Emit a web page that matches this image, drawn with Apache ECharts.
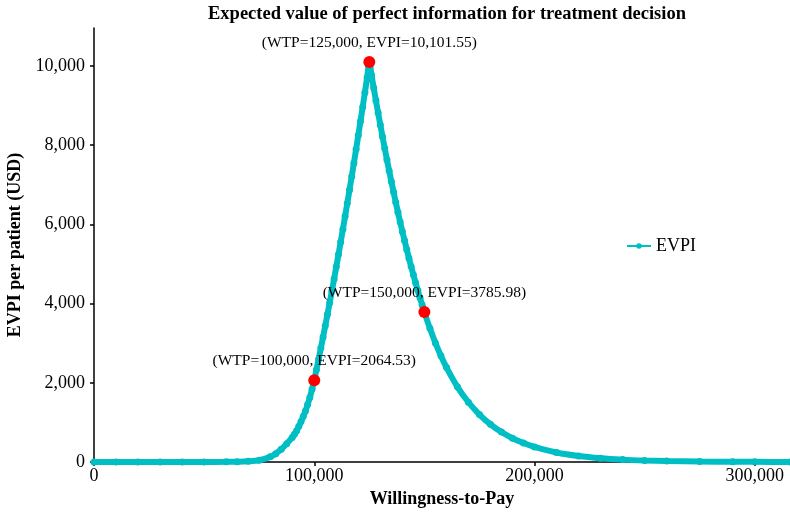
<!DOCTYPE html>
<html>
<head>
<meta charset="utf-8">
<title>EVPI</title>
<script src="https://cdn.jsdelivr.net/npm/echarts@6/dist/echarts.min.js"></script>
<style>
  html, body { margin: 0; padding: 0; background: #fff; }
  #main { width: 790px; height: 521px; }
</style>
</head>
<body>
<div id="main"></div>
<script>
// willingness-to-pay grid and EVPI
var wtp = [0, 10000, 20000, 30000, 40000, 50000, 60000, 65000, 70000, 75000, 80000, 82500, 85000, 87500,
  90000, 91000, 92000, 93000, 94000, 95000, 96000, 97000, 98000, 99000,
  100000, 101000, 102000, 103000, 104000, 105000, 106000, 107000, 108000, 109000,
  110000, 111000, 112000, 113000, 114000, 115000, 116000, 117000, 118000, 119000,
  120000, 121000, 122000, 123000, 124000, 125000, 126000, 127000, 128000, 129000,
  130000, 131000, 132000, 133000, 134000, 135000, 136000, 137000, 138000, 139000,
  140000, 141000, 142000, 143000, 144000, 145000, 146000, 147000, 148000, 149000,
  150000, 152500, 155000, 157500, 160000, 165000, 170000, 175000, 180000, 185000,
  190000, 195000, 200000, 210000, 220000, 230000, 240000, 250000, 260000, 275000,
  290000, 300000, 316000];
var evpi = [1, 1, 1, 1, 1, 2, 4, 8, 18, 45, 130, 210, 320, 460,
  620, 700, 790, 900, 1020, 1150, 1290, 1450, 1630, 1840,
  2064.53, 2330, 2601, 2876, 3156, 3440, 3729, 4022, 4320, 4623,
  4930, 5242, 5558, 5879, 6204, 6534, 6868, 7207, 7550, 7898,
  8250, 8607, 8968, 9334, 9704, 10101.55, 9771, 9447, 9129, 8818,
  8513, 8214, 7922, 7636, 7357, 7084, 6819, 6560, 6307, 6062,
  5824, 5591, 5366, 5147, 4935, 4729, 4529, 4335, 4148, 3967,
  3785.98, 3375, 3008, 2681, 2390, 1899, 1509, 1199, 952, 757,
  601, 478, 380, 240, 151, 95, 60, 38, 24, 12,
  6, 4, 2];

// highlighted points
var hlWtp = [100000, 125000, 150000];
var hlEvpi = [2064.53, 10101.55, 3785.98];
var hlLabels = ['(WTP=100,000, EVPI=2064.53)', '(WTP=125,000, EVPI=10,101.55)', '(WTP=150,000, EVPI=3785.98)'];

var xTicks = [0, 100000, 200000, 300000];
var yTicks = [0, 2000, 4000, 6000, 8000, 10000];

var teal = '#00BFC4';
var serif = 'Liberation Serif';

var lineData = [];
for (var i = 0; i < wtp.length; i++) {
  lineData.push([wtp[i], evpi[i]]);
}
var hlData = [];
for (var j = 0; j < hlWtp.length; j++) {
  hlData.push([hlWtp[j], hlEvpi[j]]);
}

function fmt(v) {
  return v.toLocaleString('en-US');
}

var myChart = echarts.init(document.getElementById('main'));
var option = {
  animation: false,
  title: {
    text: 'Expected value of perfect information for treatment decision',
    left: 442,
    textAlign: 'center',
    top: 0,
    textStyle: { fontFamily: serif, fontSize: 18.5, fontWeight: 'bold', color: '#000' }
  },
  legend: {
    data: ['EVPI'],
    left: 621,
    top: 232,
    itemWidth: 24,
    itemHeight: 7,
    itemGap: 10,
    textStyle: { fontFamily: serif, fontSize: 18, color: '#000' }
  },
  grid: { left: 94, right: 0, top: 28, bottom: 59, outerBoundsMode: 'none', containLabel: false },
  xAxis: {
    type: 'value',
    min: 0,
    max: 316000,
    name: 'Willingness-to-Pay',
    nameLocation: 'middle',
    nameGap: 28,
    nameTextStyle: { fontFamily: serif, fontSize: 18, fontWeight: 'bold', color: '#000' },
    splitLine: { show: false },
    axisLine: { lineStyle: { color: '#000', width: 1.5 } },
    axisTick: { length: 4, customValues: xTicks, lineStyle: { color: '#000', width: 1.5 } },
    axisLabel: {
      customValues: xTicks,
      fontFamily: serif, fontSize: 18, color: '#000', margin: 5,
      formatter: fmt
    }
  },
  yAxis: {
    type: 'value',
    min: 0,
    max: 10960,
    name: 'EVPI per patient (USD)',
    nameLocation: 'middle',
    nameGap: 70,
    nameTextStyle: { fontFamily: serif, fontSize: 18, fontWeight: 'bold', color: '#000' },
    splitLine: { show: false },
    axisLine: { show: true, lineStyle: { color: '#000', width: 1.5 } },
    axisTick: { show: true, length: 4, customValues: yTicks, lineStyle: { color: '#000', width: 1.5 } },
    axisLabel: {
      customValues: yTicks,
      fontFamily: serif, fontSize: 18, color: '#000', margin: 9,
      formatter: fmt
    }
  },
  series: [
    {
      name: 'EVPI',
      type: 'line',
      data: lineData,
      smooth: 0.3,
      symbol: 'circle',
      symbolSize: 7,
      itemStyle: { color: teal },
      lineStyle: { color: teal, width: 6 },
      z: 2
    },
    {
      name: 'highlight',
      type: 'scatter',
      data: hlData,
      symbolSize: 12,
      itemStyle: { color: '#FF0000', opacity: 1 },
      label: {
        show: true,
        position: 'top',
        distance: 5,
        fontFamily: serif,
        fontSize: 15.5,
        color: '#000',
        formatter: function (p) { return hlLabels[p.dataIndex]; }
      },
      z: 3
    }
  ]
};
myChart.setOption(option);
</script>
</body>
</html>
